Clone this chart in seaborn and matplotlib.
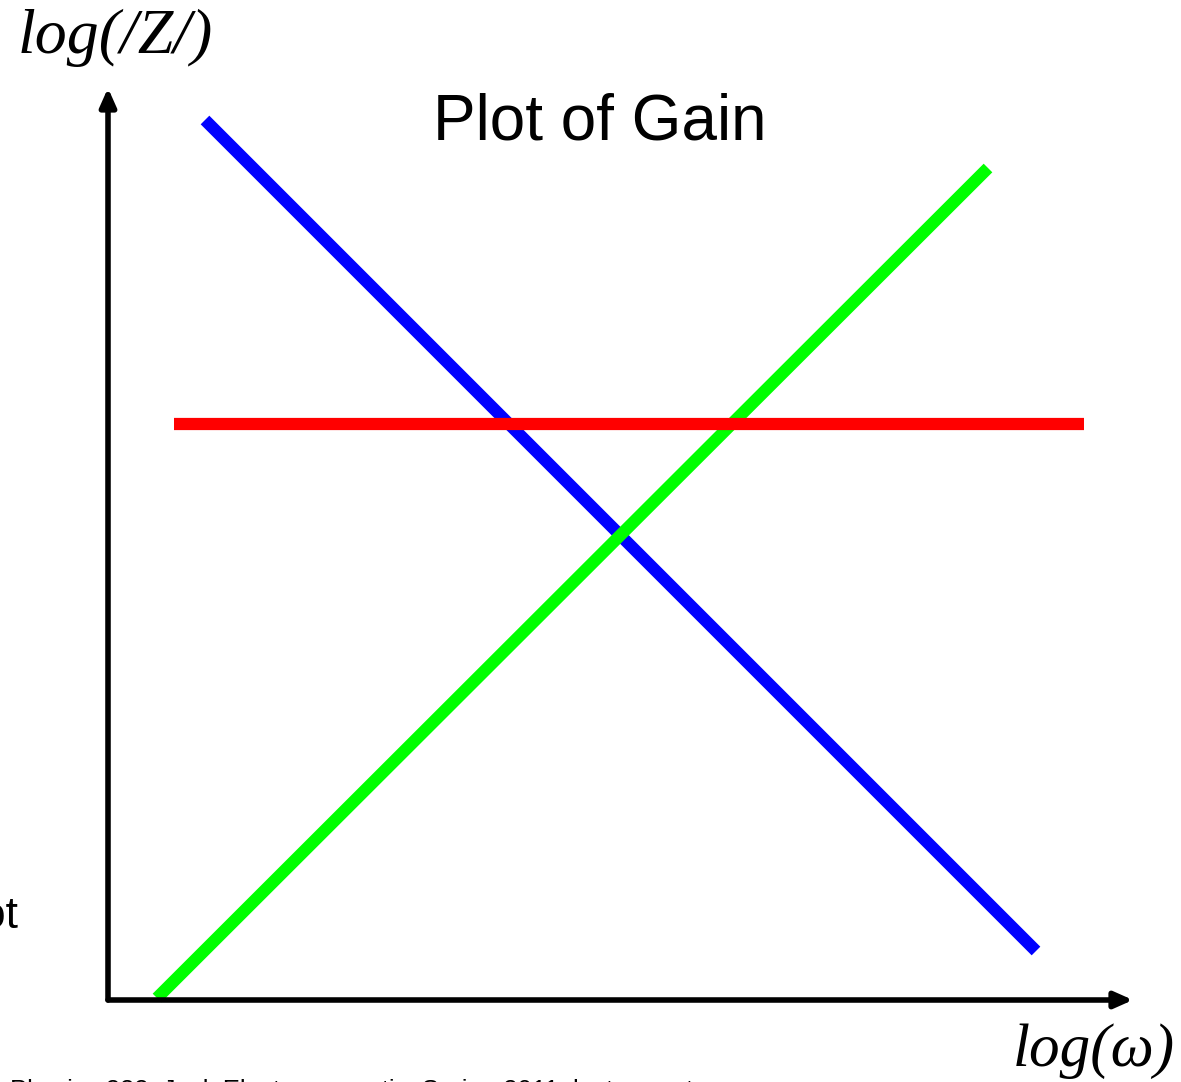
import matplotlib
matplotlib.use("Agg")
import matplotlib.pyplot as plt
import seaborn as sns
import pandas as pd

sns.set_theme(style="white")
plt.rcParams['font.family'] = ['Liberation Sans', 'DejaVu Sans']

# Asymptote lines of the gain plot (log units, origin at the axes corner)
blue_x = [0.97, 9.28]
blue_y = [8.80, 0.49]
green_x = [0.49, 8.80]
green_y = [0.02, 8.32]
red_x = [0.66, 9.76]
red_y = [5.76, 5.76]

title = "Plot of Gain"
ylabel = "log(/Z/)"
xlabel = "log(\u03c9)"
side_text = "Bode Plot"
footer = "Physics 222, Jack Electromagnetic, Spring 2011, lecture notes"

W, H = 1181, 1082
fig = plt.figure(figsize=(W / 100, H / 100), dpi=100)
fig.patch.set_facecolor("white")

left, right, bottom, top = 108, 1133, 1000, 88
ax = fig.add_axes([left / W, 1 - bottom / H, (right - left) / W, (bottom - top) / H])
ax.set_xlim(0, (right - left) / 100)
ax.set_ylim(0, (bottom - top) / 100)
ax.set_facecolor("white")
for s in ax.spines.values():
    s.set_visible(False)
ax.set_xticks([])
ax.set_yticks([])

df = pd.concat([
    pd.DataFrame({"x": blue_x, "y": blue_y, "s": "blue"}),
    pd.DataFrame({"x": green_x, "y": green_y, "s": "green"}),
    pd.DataFrame({"x": red_x, "y": red_y, "s": "red"}),
])
palette = {"blue": "#0000FF", "green": "#00FF00", "red": "#FF0000"}
sns.lineplot(data=df, x="x", y="y", hue="s", palette=palette, linewidth=8.8,
             legend=False, ax=ax, sort=False, estimator=None, solid_capstyle="butt")
for ln in ax.lines:
    ln.set_clip_on(False)
ax.set_xlabel("")
ax.set_ylabel("")

# Axis arrows
arrow_kw = dict(arrowstyle="-|>,head_length=0.9,head_width=0.4", color="black",
                lw=4.0, shrinkA=0, shrinkB=0)
ax.annotate("", xy=(1.0, 0), xytext=(0, 0), xycoords="axes fraction",
            textcoords="axes fraction", arrowprops=arrow_kw, annotation_clip=False)
ax.annotate("", xy=(0, 1.0), xytext=(0, 0), xycoords="axes fraction",
            textcoords="axes fraction", arrowprops=arrow_kw, annotation_clip=False)

def fx(px):
    return px / W

def fy(py):
    return 1 - py / H

fig.text(fx(600), fy(140), title, ha="center", va="baseline", fontsize=46,
         family=['Liberation Sans', 'DejaVu Sans'], color="black")
fig.text(fx(18), fy(53), ylabel, ha="left", va="baseline", fontsize=46,
         family=['Liberation Serif', 'DejaVu Serif'], style="italic", color="black")
fig.text(fx(1175), fy(1066), xlabel, ha="right", va="baseline", fontsize=44,
         family=['Liberation Serif', 'DejaVu Serif'], style="italic", color="black")
fig.text(fx(18), fy(928), side_text, ha="right", va="baseline", fontsize=32,
         family=['Liberation Sans', 'DejaVu Sans'], color="black")
fig.text(fx(10), fy(1098), footer, ha="left", va="baseline", fontsize=18.5,
         family=['Liberation Sans', 'DejaVu Sans'], color="black")

fig.savefig("out.png", dpi=100, facecolor="white")
